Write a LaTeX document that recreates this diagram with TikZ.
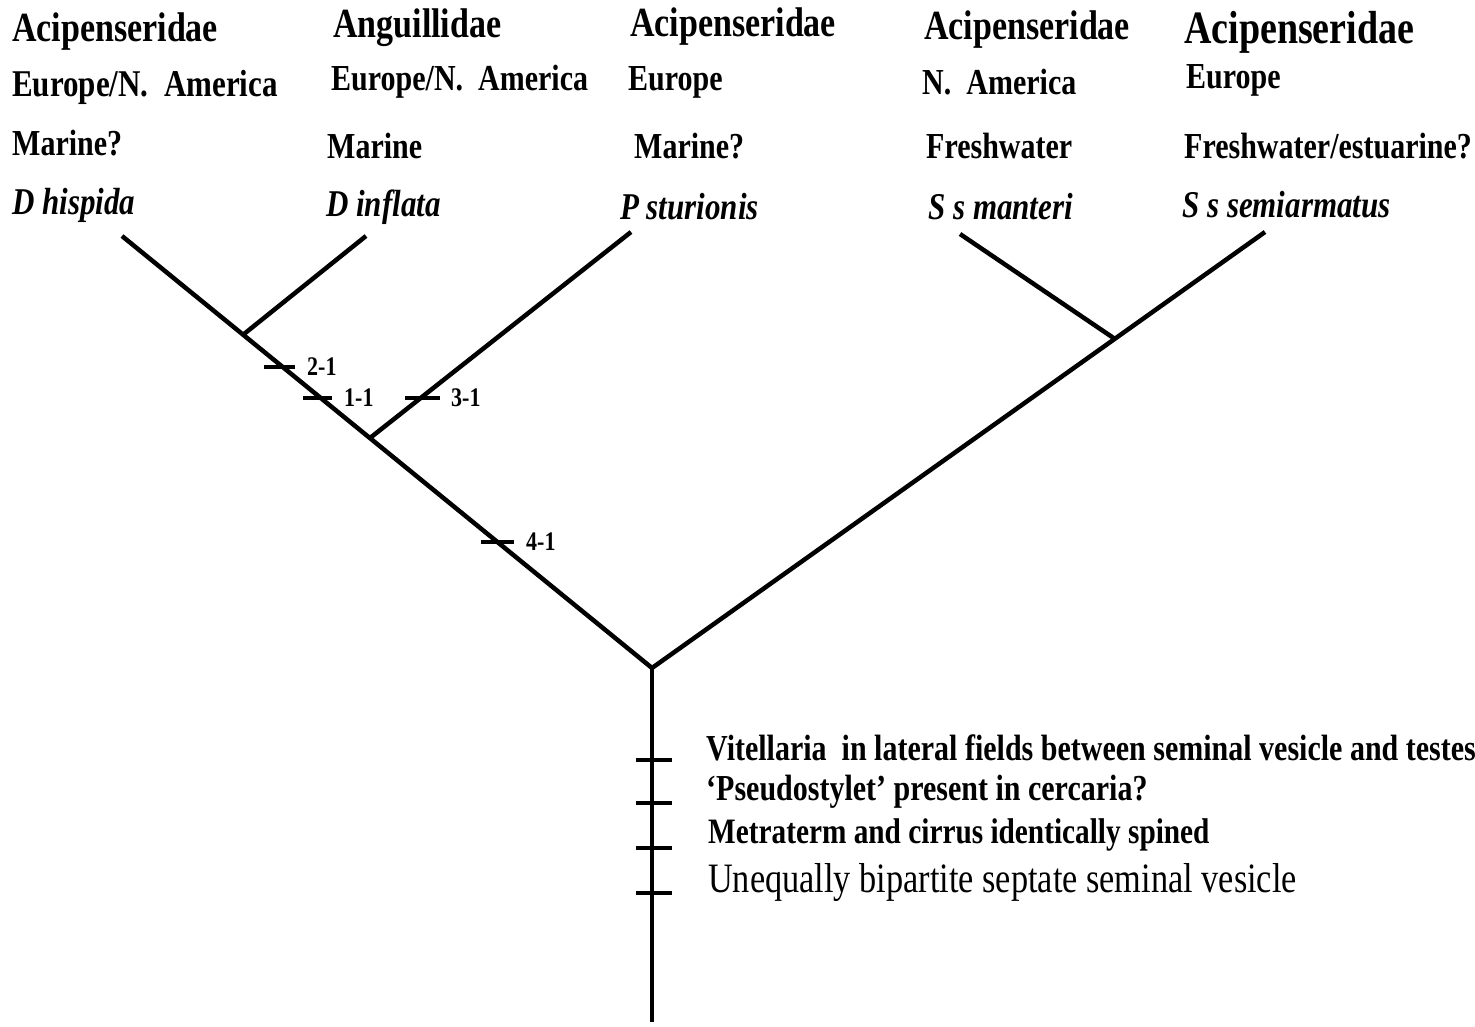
\documentclass[tikz,border=0pt]{standalone}
\usepackage{fontspec}
\setmainfont{Liberation Serif}
\usepackage{graphicx}
\newcommand{\stx}[1]{\scalebox{1}[1.22]{#1}}
\begin{document}
\begin{tikzpicture}[x=1pt,y=-1pt,
  br/.style={line width=4.5pt},
  tk/.style={line width=3.5pt},
  lab/.style={anchor=west,inner sep=0pt,font=\fontsize{30}{30}\selectfont\bfseries},
  fam/.style={lab,font=\fontsize{34}{34}\selectfont\bfseries},
  spc/.style={lab,font=\fontsize{31}{31}\selectfont\bfseries\itshape},
  tl/.style={lab,font=\fontsize{22}{22}\selectfont\bfseries},
  chr/.style={lab,font=\fontsize{30}{30}\selectfont\bfseries}]
\useasboundingbox (0,0) rectangle (1475,1027);
% tree coordinates
\coordinate (root) at (652,668);
\coordinate (bot) at (652,1022);
\coordinate (tipA) at (122,236);
\coordinate (tipB) at (366,236);
\coordinate (tipC) at (631,232);
\coordinate (tipD) at (960,234);
\coordinate (tipE) at (1265,232);
\coordinate (nAB) at (244,334);
\coordinate (nABC) at (370,438);
\coordinate (nDE) at (1115,339);
% branches
\draw[br] (tipA) -- (root) -- (tipE);
\draw[br] (nAB) -- (tipB);
\draw[br] (nABC) -- (tipC);
\draw[br] (nDE) -- (tipD);
\draw[br,line width=4pt] (root) -- (bot);
% ticks on branches
\coordinate (t21) at (280,367);
\coordinate (t11) at (318,398);
\coordinate (t31) at (422,398);
\coordinate (t41) at (498,542);
\draw[tk] ([xshift=-16pt]t21) -- ([xshift=15pt]t21);
\draw[tk] ([xshift=-15pt]t11) -- ([xshift=14pt]t11);
\draw[tk] ([xshift=-17pt]t31) -- ([xshift=18pt]t31);
\draw[tk] ([xshift=-17pt]t41) -- ([xshift=16pt]t41);
\node[tl] (l21) at (307,367) {\stx{2-1}};
\node[tl] (l11) at (344,398) {\stx{1-1}};
\node[tl] (l31) at (451,398) {\stx{3-1}};
\node[tl] (l41) at (526,542) {\stx{4-1}};
% ticks on stem
\foreach \yy/\nm in {760/s1,803/s2,848/s3,893/s4}{
  \coordinate (\nm) at (654,\yy);
  \draw[tk] ([xshift=-18pt]\nm) -- ([xshift=18pt]\nm);
}
\node[chr] (c1) at (706,748) {\stx{Vitellaria\ \ in lateral fields between seminal vesicle and testes}};
\node[chr] (c2) at (706,792) {\stx{‘Pseudostylet’ present in cercaria?}};
\node[chr,font=\fontsize{29.3}{30}\selectfont\bfseries] (c3) at (708,835) {\stx{Metraterm and cirrus identically spined}};
\node[lab,font=\fontsize{34.3}{34}\selectfont] (c4) at (708,882) {\stx{Unequally bipartite septate seminal vesicle}};
% header texts
\node[fam] (f1) at (12,32) {\stx{Acipenseridae}};
\node[fam] (f2) at (333,28) {\stx{Anguillidae}};
\node[fam] (f3) at (630,27) {\stx{Acipenseridae}};
\node[fam] (f4) at (924,30) {\stx{Acipenseridae}};
\node[fam,font=\fontsize{38}{38}\selectfont\bfseries] (f5) at (1184,32) {\stx{Acipenseridae}};
\node[lab,font=\fontsize{31}{31}\selectfont\bfseries] (g1) at (12,87) {\stx{Europe/N.\ \ America}};
\node[lab] (g2) at (331,82) {\stx{Europe/N.\ \ America}};
\node[lab] (g3) at (628,82) {\stx{Europe}};
\node[lab] (g4) at (922,82) {\stx{N.\ \ America}};
\node[lab] (g5) at (1186,80) {\stx{Europe}};
\node[lab] (h1) at (12,143) {\stx{Marine?}};
\node[lab] (h2) at (327,146) {\stx{Marine}};
\node[lab] (h3) at (634,146) {\stx{Marine?}};
\node[lab] (h4) at (926,146) {\stx{Freshwater}};
\node[lab] (h5) at (1184,146) {\stx{Freshwater/estuarine?}};
\node[spc] (sA) at (12,205) {\stx{D hispida}};
\node[spc] (sB) at (326,207) {\stx{D inflata}};
\node[spc] (sC) at (620,207) {\stx{P sturionis}};
\node[spc] (sD) at (928,207) {\stx{S s manteri}};
\node[spc] (sE) at (1182,205) {\stx{S s semiarmatus}};
\end{tikzpicture}
\end{document}
